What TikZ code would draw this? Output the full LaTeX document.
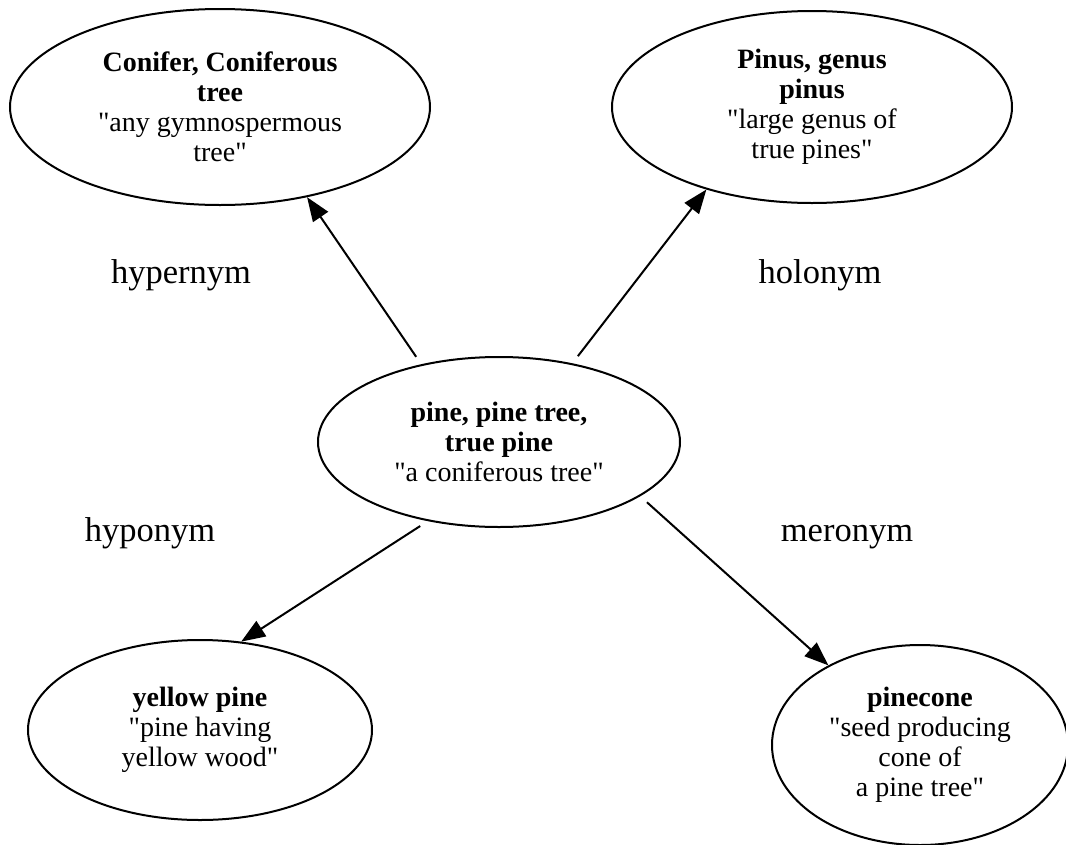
\documentclass[tikz,border=0pt]{standalone}
\usepackage{fontspec}
\setmainfont{Liberation Serif}[Ligatures=TeXOff]
\usetikzlibrary{arrows.meta,shapes.geometric}
\begin{document}
\begin{tikzpicture}[x=1pt,y=-1pt,
  synset/.style={draw, line width=2pt, ellipse, inner sep=0pt, align=center,
                 font=\fontsize{28}{30}\selectfont},
  rel/.style={font=\fontsize{34.5}{40}\selectfont, anchor=base},
  link/.style={line width=2pt, -{Triangle[length=24pt,width=18pt]}, shorten <=9pt}]
\useasboundingbox (0,0) rectangle (1066,844);

% synsets
\node[synset, minimum width=420pt, minimum height=196pt] (tl) at (220,107)
  {\textbf{Conifer, Coniferous}\\\textbf{tree}\\"any gymnospermous\\tree"};
\node[synset, minimum width=400pt, minimum height=192pt] (tr) at (812,107)
  {\textbf{Pinus, genus}\\\textbf{pinus}\\"large genus of\\true pines"};
\node[synset, minimum width=362pt, minimum height=170pt] (c) at (499,442)
  {\textbf{pine, pine tree,}\\\textbf{true pine}\\"a coniferous tree"};
\node[synset, minimum width=344pt, minimum height=180pt] (bl) at (200,730)
  {\textbf{yellow pine}\\"pine having\\yellow wood"};
\node[synset, minimum width=296pt, minimum height=200pt] (br) at (920,745)
  {\textbf{pinecone}\\"seed producing\\cone of\\a pine tree"};

% relation labels
\node[rel] (hyper) at (181,283) {hypernym};
\node[rel] (holo)  at (820,283) {holonym};
\node[rel] (hypo)  at (150,541) {hyponym};
\node[rel] (mero)  at (847,541) {meronym};

% relations
\draw[link] (c.135.6) -- (tl.314);
\draw[link] (c.47)    -- (tr.218);
\draw[link] (c.228)   -- (bl.65.5);
\draw[link] (c.339)   -- (br.139.5);
\end{tikzpicture}
\end{document}
